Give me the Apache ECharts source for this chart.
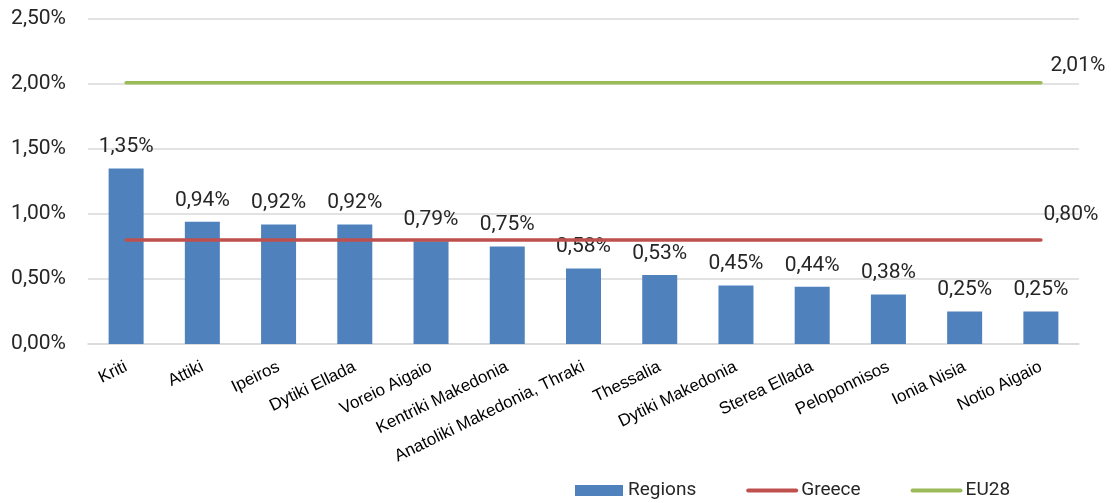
<!DOCTYPE html>
<html><head><meta charset="utf-8">
<script src="https://cdn.jsdelivr.net/npm/echarts@6/dist/echarts.min.js"></script>
<style>html,body{margin:0;padding:0;background:#fff}#c{width:1113px;height:503px}</style>
</head><body><div id="c"></div>
<script>
const categories = ['Kriti','Attiki','Ipeiros','Dytiki Ellada','Voreio Aigaio','Kentriki Makedonia','Anatoliki Makedonia, Thraki','Thessalia','Dytiki Makedonia','Sterea Ellada','Peloponnisos','Ionia Nisia','Notio Aigaio'];
const regions = [1.35,0.94,0.92,0.92,0.79,0.75,0.58,0.53,0.45,0.44,0.38,0.25,0.25];
const greece = [0.80,0.80,0.80,0.80,0.80,0.80,0.80,0.80,0.80,0.80,0.80,0.80,0.80];
const eu28 = [2.01,2.01,2.01,2.01,2.01,2.01,2.01,2.01,2.01,2.01,2.01,2.01,2.01];
const yTicks = {min:0, max:2.5, interval:0.5};

const NARROW = "'Liberation Sans Narrow','Roboto',sans-serif";
const fmt = v => Number(v).toFixed(2).replace('.', ',') + '%';
const last = categories.length - 1;

const chart = echarts.init(document.getElementById('c'));
chart.setOption({
  animation:false,
  grid:{left:88,right:34,top:19,bottom:159,containLabel:false},
  xAxis:{type:'category',data:categories,
    axisLine:{lineStyle:{color:'#d9d9d9',width:1.5}},
    axisTick:{show:false},
    axisLabel:{rotate:26,interval:0,fontFamily:"'Liberation Sans',Arial,sans-serif",fontSize:17,color:'#000',margin:22}},
  yAxis:{type:'value',min:yTicks.min,max:yTicks.max,interval:yTicks.interval,
    axisLine:{show:false},axisTick:{show:false},
    splitLine:{lineStyle:{color:'#d9d9d9',width:1.5}},
    axisLabel:{formatter:fmt,fontFamily:NARROW,fontSize:21,color:'#262626',margin:22}},
  legend:{left:570,top:476,itemWidth:48,itemHeight:11,itemGap:50,
    textStyle:{fontFamily:NARROW,fontSize:19,color:'#262626'},
    data:[{name:'Regions',icon:'rect'},
          {name:'Greece',itemStyle:{opacity:0},lineStyle:{width:4,cap:'round'}},
          {name:'EU28',itemStyle:{opacity:0},lineStyle:{width:4,cap:'round'}}]},
  series:[
    {name:'Regions',type:'bar',data:regions,barWidth:35,
      itemStyle:{color:'#4F81BD'},
      label:{show:true,position:'top',distance:11,formatter:p=>fmt(p.value),fontFamily:NARROW,fontSize:21,color:'#262626'}},
    {name:'Greece',type:'line',data:greece,symbol:'circle',symbolSize:0.01,showSymbol:true,
      lineStyle:{color:'#C0504D',width:3.5,cap:'round'},itemStyle:{color:'#C0504D'},
      label:{show:true,position:'top',offset:[30,-10],formatter:p=>p.dataIndex===last?fmt(p.value):'',fontFamily:NARROW,fontSize:21,color:'#262626'}},
    {name:'EU28',type:'line',data:eu28,symbol:'circle',symbolSize:0.01,showSymbol:true,
      lineStyle:{color:'#9BBB59',width:3.5,cap:'round'},itemStyle:{color:'#9BBB59'},
      label:{show:true,position:'top',offset:[37,-1],formatter:p=>p.dataIndex===last?fmt(p.value):'',fontFamily:NARROW,fontSize:21,color:'#262626'}}
  ]
});
</script></body></html>
